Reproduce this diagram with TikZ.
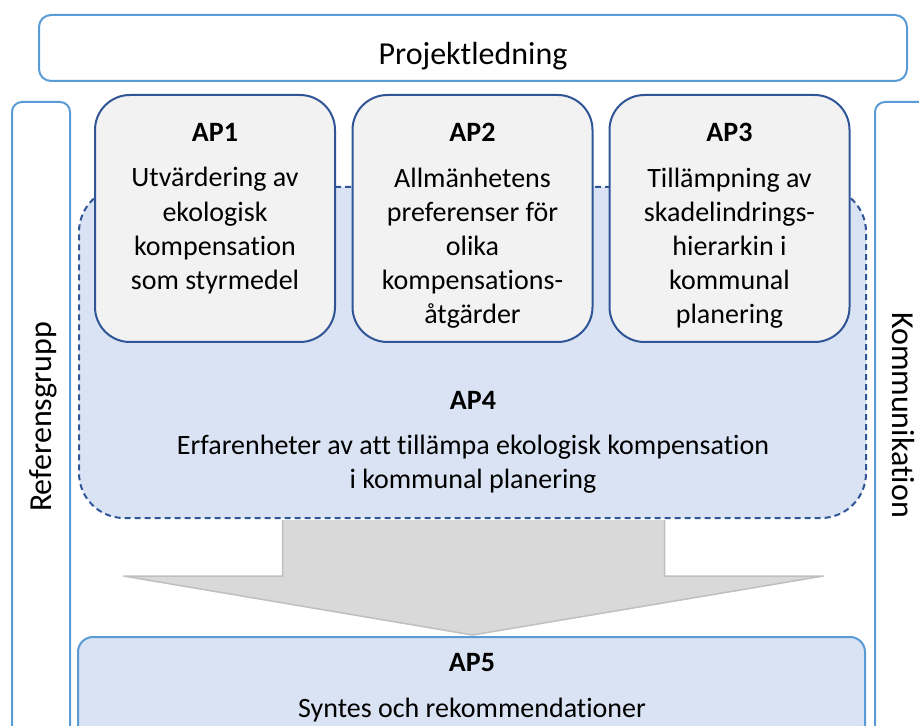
\documentclass[tikz,border=0pt]{standalone}
\usepackage{fontspec}
\setmainfont{Carlito}[Ligatures=NoCommon]
\usepackage{tikz}
\usetikzlibrary{positioning,calc}
\definecolor{ramblue}{HTML}{5B9BD5}
\definecolor{apblue}{HTML}{2F5597}
\definecolor{apgray}{HTML}{F2F2F2}
\definecolor{aplight}{HTML}{DAE3F3}
\definecolor{pilfill}{HTML}{D9D9D9}
\definecolor{pilline}{HTML}{BFBFBF}

\begin{document}
\begin{tikzpicture}[x=0.5pt, y=-0.5pt,
  ram/.style = {draw=ramblue, line width=1pt, inner sep=0pt},
  apbox/.style = {draw=apblue, line width=1pt, fill=apgray, rounded corners=17.5pt,
    minimum width=120pt, minimum height=123.5pt, inner sep=0pt},
  aptext/.style = {anchor=north, align=center, inner sep=0pt,
    font=\fontsize{14}{17.1}\selectfont},
  stortext/.style = {anchor=base, inner sep=0pt, font=\fontsize{16}{19.5}\selectfont},
  pil/.style = {fill=pilfill, draw=pilline, line width=0.75pt}
  ]
  \clip (0,0) rectangle (919,726);
  \node[ram, rounded corners=6pt, minimum width=434pt, minimum height=33pt] (proj) at (473,48) {};
  \node[stortext] (projtxt) at (473,65) {Projektledning};
  \node[ram, rounded corners=5pt, minimum width=29pt, minimum height=319pt] (ref) at (41,421) {};
  \node[stortext, rotate=90] (reftxt) at (51,417) {Referensgrupp};
  \node[ram, rounded corners=5pt, minimum width=30pt, minimum height=319pt] (komm) at (905,421) {};
  \node[stortext, rotate=-90] (kommtxt) at (892,415) {Kommunikation};

  \node[draw=apblue, line width=1pt, dash pattern=on 3pt off 2pt, fill=aplight,
    rounded corners=22.5pt, minimum width=393.5pt, minimum height=165.5pt] (ap4) at (472.5,352.5) {};
  \node[aptext] (ap4txt) at (473,391) {\textbf{AP4}\\[5.5pt]
    Erfarenheter av att tillämpa ekologisk kompensation\\i kommunal planering};

  \node[apbox] (ap1) at (215,218.5) {};
  \node[aptext] (ap1txt) at (ap1.north |- 0,123) {\textbf{AP1}\\[5.6pt]
    Utvärdering av\\ekologisk\\kompensation\\som styrmedel};
  \node[apbox] (ap2) at (472.5,218.5) {};
  \node[aptext] (ap2txt) at (ap2.north |- 0,123) {\textbf{AP2}\\[5.6pt]
    Allmänhetens\\preferenser för\\olika\\kompensations-\\åtgärder};
  \node[apbox] (ap3) at (729.5,218.5) {};
  \node[aptext] (ap3txt) at (ap3.north |- 0,123) {\textbf{AP3}\\[5.6pt]
    Tillämpning av\\skadelindrings-\\hierarkin i\\kommunal\\planering};

  \node[ram, fill=aplight, rounded corners=7.5pt, minimum width=393.5pt, minimum height=51.5pt] (ap5) at (471.5,688.5) {};
  \node[aptext] (ap5txt) at (472,653) {\textbf{AP5}\\[6pt]Syntes och rekommendationer};
  \path[pil] ($(ap4.south)+(-190,1)$) -- ++(0,56) -- ++(-159,0) -- ($(ap5.north)+(1,-1)$)
    -- ($(ap4.south)+(351,57)$) -- ++(-159,0) -- ++(0,-56);
\end{tikzpicture}
\end{document}
